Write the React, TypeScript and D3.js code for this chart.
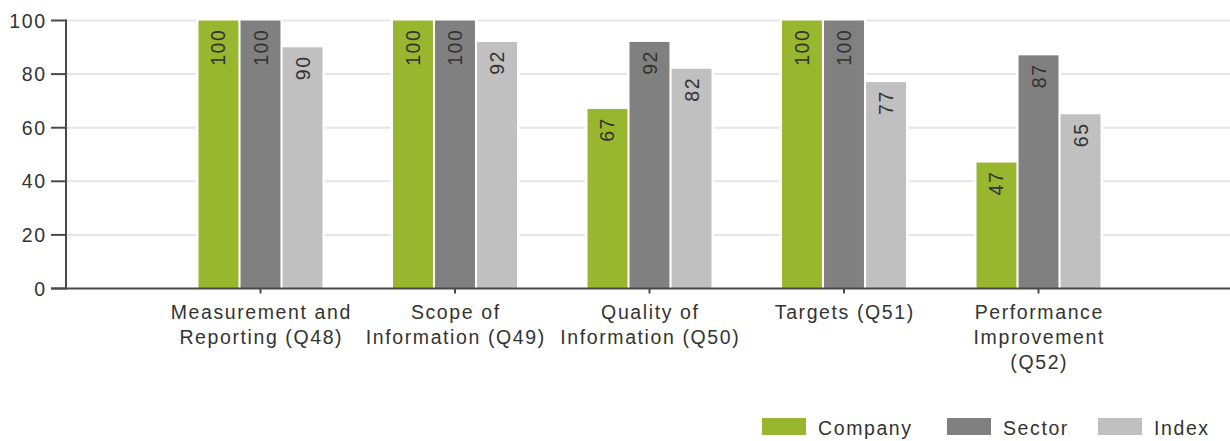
import React, { useEffect, useRef } from "react";
import * as d3 from "d3";

const categories = [
  "Measurement and\nReporting (Q48)",
  "Scope of\nInformation (Q49)",
  "Quality of\nInformation (Q50)",
  "Targets (Q51)",
  "Performance\nImprovement\n(Q52)",
];
const seriesNames = ["Company", "Sector", "Index"];
const companyValues = [100, 100, 67, 100, 47];
const sectorValues = [100, 100, 92, 100, 87];
const indexValues = [90, 92, 82, 77, 65];
const yTicks = [0, 20, 40, 60, 80, 100];
const colors = ["#98b62e", "#808080", "#c0c0c0"];

const W = 1230;
const H = 441;
const FONT = "'Liberation Sans', Arial, sans-serif";
const FS = 19.5;
const LS = 1.6;
const TEXT = "#333333";

export default function App() {
  const ref = useRef<SVGSVGElement | null>(null);

  useEffect(() => {
    const svg = d3.select(ref.current);
    svg.selectAll("*").remove();

    const left = 66;
    const step = 194.5;
    const x = d3
      .scaleBand<string>()
      .domain(categories)
      .range([left + step / 2, left + step * 5.5])
      .paddingInner(0)
      .paddingOuter(0);
    const xi = d3.scaleBand<string>().domain(seriesNames).range([-62, 62]).paddingInner(0.05);
    const y = d3.scaleLinear().domain([0, 100]).range([288.5, 20.5]);

    const series = [companyValues, sectorValues, indexValues];

    svg
      .append("g")
      .selectAll("line")
      .data(yTicks.filter((t) => t > 0))
      .join("line")
      .attr("x1", left)
      .attr("x2", W)
      .attr("y1", (d) => y(d))
      .attr("y2", (d) => y(d))
      .attr("stroke", "#e6e6e6")
      .attr("stroke-width", 2);

    const center = (c: string) => (x(c) as number) + x.bandwidth() / 2;

    const barData: { c: string; s: string; v: number; i: number }[] = [];
    categories.forEach((c, ci) => {
      seriesNames.forEach((s, si) => {
        barData.push({ c, s, v: series[si][ci], i: si });
      });
    });

    svg
      .append("g")
      .selectAll("rect")
      .data(barData)
      .join("rect")
      .attr("x", (d) => center(d.c) + (xi(d.s) as number) - 2.5)
      .attr("y", (d) => y(d.v) - 2)
      .attr("width", xi.bandwidth() + 5)
      .attr("height", (d) => y(0) - y(d.v) + 2)
      .attr("fill", "#ffffff");

    svg
      .append("g")
      .selectAll("rect")
      .data(barData)
      .join("rect")
      .attr("x", (d) => center(d.c) + (xi(d.s) as number))
      .attr("y", (d) => y(d.v))
      .attr("width", xi.bandwidth())
      .attr("height", (d) => y(0) - y(d.v))
      .attr("fill", (d) => colors[d.i]);

    svg
      .append("g")
      .selectAll("text")
      .data(barData)
      .join("text")
      .attr("transform", (d) => {
        const cx = center(d.c) + (xi(d.s) as number) + xi.bandwidth() / 2;
        return `translate(${cx},${y(d.v) + 8}) rotate(-90)`;
      })
      .attr("text-anchor", "end")
      .attr("dy", "0.36em")
      .attr("font-family", FONT)
      .attr("font-size", FS)
      .attr("letter-spacing", LS)
      .attr("fill", TEXT)
      .text((d) => String(d.v));

    svg
      .append("line")
      .attr("x1", left)
      .attr("x2", left)
      .attr("y1", y(100) - 1)
      .attr("y2", y(0) + 1)
      .attr("stroke", "#4a4a4a")
      .attr("stroke-width", 2);
    const yt = svg.append("g").selectAll("g").data(yTicks).join("g");
    yt.append("line")
      .attr("x1", 51)
      .attr("x2", left)
      .attr("y1", (d) => y(d))
      .attr("y2", (d) => y(d))
      .attr("stroke", "#4a4a4a")
      .attr("stroke-width", 2);
    yt.append("text")
      .attr("x", 45 + LS)
      .attr("y", (d) => y(d))
      .attr("dy", "0.36em")
      .attr("text-anchor", "end")
      .attr("font-family", FONT)
      .attr("font-size", FS)
      .attr("letter-spacing", LS)
      .attr("fill", TEXT)
      .text((d) => String(d));

    svg
      .append("line")
      .attr("x1", 51)
      .attr("x2", W)
      .attr("y1", y(0))
      .attr("y2", y(0))
      .attr("stroke", "#4a4a4a")
      .attr("stroke-width", 2);
    svg
      .append("g")
      .selectAll("line")
      .data(categories)
      .join("line")
      .attr("x1", (d) => center(d))
      .attr("x2", (d) => center(d))
      .attr("y1", y(0))
      .attr("y2", y(0) + 5)
      .attr("stroke", "#4a4a4a")
      .attr("stroke-width", 2);

    const cl = svg
      .append("g")
      .selectAll("text")
      .data(categories)
      .join("text")
      .attr("text-anchor", "middle")
      .attr("font-family", FONT)
      .attr("font-size", FS)
      .attr("letter-spacing", LS)
      .attr("fill", TEXT);
    cl.each(function (d) {
      const t = d3.select(this);
      d.split("\n").forEach((line, i) => {
        t.append("tspan")
          .attr("x", center(d) + LS / 2)
          .attr("y", 319 + i * 25)
          .text(line);
      });
    });

    const legendX = [762, 947, 1098];
    const lg = svg
      .append("g")
      .selectAll("g")
      .data(seriesNames)
      .join("g")
      .attr("transform", (_d, i) => `translate(${legendX[i]},418)`);
    lg.append("rect")
      .attr("width", 44)
      .attr("height", 17)
      .attr("fill", (_d, i) => colors[i]);
    lg.append("text")
      .attr("x", 56)
      .attr("y", 17)
      .attr("font-family", FONT)
      .attr("font-size", FS)
      .attr("letter-spacing", LS)
      .attr("fill", TEXT)
      .text((d) => d);
  }, []);

  return (
    <svg
      ref={ref}
      width={W}
      height={H}
      style={{ position: "absolute", left: 0, top: 0, background: "#ffffff" }}
    />
  );
}
